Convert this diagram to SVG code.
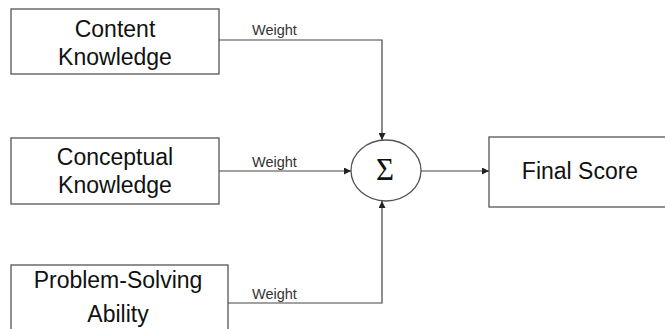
<svg xmlns="http://www.w3.org/2000/svg" width="665" height="329" viewBox="0 0 665 329">
  <style>
    .box { fill: #ffffff; stroke: #555555; stroke-width: 1.3; }
    .lbl { font-family: "Liberation Sans", Arial, sans-serif; font-size: 23px; fill: #111111; text-anchor: middle; }
    .wt { font-family: "Liberation Sans", Arial, sans-serif; font-size: 14.5px; fill: #333333; }
    .edge { fill: none; stroke: #444444; stroke-width: 1.2; }
  </style>
  <defs>
    <marker id="arrow" viewBox="0 0 10 10" refX="10" refY="5" markerWidth="7" markerHeight="7" markerUnits="userSpaceOnUse" orient="auto">
      <path d="M0,0 L10,5 L0,10 z" fill="#222222"/>
    </marker>
  </defs>
  <rect width="665" height="329" fill="#ffffff"/>

  <g id="content-knowledge">
    <rect class="box" x="11" y="9" width="208" height="65"/>
    <text class="lbl" x="115" y="37">Content</text>
    <text class="lbl" x="115" y="65">Knowledge</text>
  </g>

  <g id="conceptual-knowledge">
    <rect class="box" x="11" y="138" width="208" height="66"/>
    <text class="lbl" x="115" y="165">Conceptual</text>
    <text class="lbl" x="115" y="193">Knowledge</text>
  </g>

  <g id="problem-solving">
    <rect class="box" x="11" y="265" width="217" height="70"/>
    <text class="lbl" x="118" y="288">Problem-Solving</text>
    <text class="lbl" x="118" y="322">Ability</text>
  </g>

  <g id="sum">
    <ellipse class="box" cx="386" cy="170.5" rx="35" ry="30.5"/>
    <text x="385" y="180" font-family="Liberation Serif, 'Times New Roman', serif" font-size="31" text-anchor="middle" fill="#111111">Σ</text>
  </g>

  <g id="final-score">
    <rect class="box" x="489" y="137" width="190" height="70"/>
    <text class="lbl" x="580" y="179">Final Score</text>
  </g>

  <g id="connectors">
    <path class="edge" d="M219,40 H382 V140" marker-end="url(#arrow)"/>
    <path class="edge" d="M219,171 H351" marker-end="url(#arrow)"/>
    <path class="edge" d="M228,303 H382 V201" marker-end="url(#arrow)"/>
    <path class="edge" d="M421,171 H489" marker-end="url(#arrow)"/>
    <text class="wt" x="252" y="35">Weight</text>
    <text class="wt" x="252" y="167">Weight</text>
    <text class="wt" x="252" y="299">Weight</text>
  </g>
</svg>
